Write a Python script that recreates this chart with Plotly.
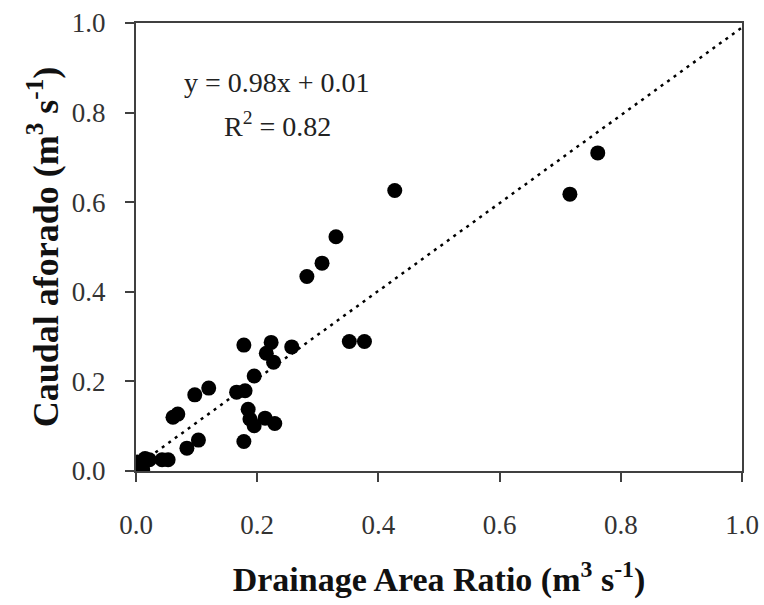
import plotly.graph_objects as go

# Observed data (Drainage Area Ratio vs Caudal aforado)
dar_x = [0.762, 0.716, 0.427, 0.330, 0.307, 0.282, 0.352, 0.377, 0.257, 0.223,
         0.178, 0.215, 0.227, 0.195, 0.120, 0.097, 0.180, 0.166, 0.185, 0.188,
         0.195, 0.213, 0.229, 0.069, 0.061, 0.103, 0.178, 0.084, 0.043, 0.053,
         0.015, 0.007, 0.011, 0.002, 0.022]
caudal_y = [0.710, 0.618, 0.626, 0.523, 0.464, 0.434, 0.289, 0.289, 0.277, 0.287,
            0.281, 0.263, 0.243, 0.212, 0.185, 0.170, 0.179, 0.176, 0.138, 0.116,
            0.101, 0.118, 0.106, 0.127, 0.120, 0.069, 0.066, 0.051, 0.025, 0.025,
            0.028, 0.013, 0.003, 0.020, 0.025]

# Regression line
slope = 0.98
intercept = 0.01
fit_x = [0.0, 1.0]
fit_y = [slope * v + intercept for v in fit_x]

tick_vals = [0.0, 0.2, 0.4, 0.6, 0.8, 1.0]
tick_text = ["0.0", "0.2", "0.4", "0.6", "0.8", "1.0"]

FONT = "Liberation Serif"
axis_color = "#404040"

fig = go.Figure()
fig.add_trace(go.Scatter(
    x=fit_x, y=fit_y, mode="lines",
    line=dict(color="black", width=2.5, dash="3px,5px"),
    showlegend=False, hoverinfo="skip"))
fig.add_trace(go.Scatter(
    x=dar_x, y=caudal_y, mode="markers",
    marker=dict(color="black", size=15, line=dict(width=0)),
    showlegend=False))

fig.add_annotation(x=0.233, y=0.868, xref="x", yref="y", showarrow=False,
                   text="y = 0.98x + 0.01",
                   font=dict(family=FONT, size=28, color="#222"))
fig.add_annotation(x=0.233, y=0.773, xref="x", yref="y", showarrow=False,
                   text="R<sup>2</sup> = 0.82",
                   font=dict(family=FONT, size=28, color="#222"))

fig.update_layout(
    width=764, height=605,
    margin=dict(l=136, r=22, t=23, b=134),
    paper_bgcolor="white", plot_bgcolor="white",
    font=dict(family=FONT, size=20, color="#333"),
    xaxis=dict(
        range=[0, 1], tickvals=tick_vals, ticktext=tick_text,
        automargin=False,
        showgrid=False, zeroline=False,
        showline=True, linecolor=axis_color, linewidth=2, mirror=True,
        ticks="outside", ticklen=9, tickwidth=2, tickcolor=axis_color,
        ticklabelstandoff=20,
        tickfont=dict(family=FONT, size=27, color="#333"),
        title=dict(text="<b>Drainage Area Ratio (m<sup>3</sup> s<sup>-1</sup>)</b>",
                   font=dict(family=FONT, size=34, color="#111"), standoff=28),
    ),
    yaxis=dict(
        range=[0, 1], tickvals=tick_vals, ticktext=tick_text,
        automargin=False,
        showgrid=False, zeroline=False,
        showline=True, linecolor=axis_color, linewidth=2, mirror=True,
        ticks="outside", ticklen=9, tickwidth=2, tickcolor=axis_color,
        ticklabelstandoff=14,
        tickfont=dict(family=FONT, size=27, color="#333"),
        title=dict(text="<b>Caudal aforado (m<sup>3</sup> s<sup>-1</sup>)</b>",
                   font=dict(family=FONT, size=36, color="#111"), standoff=2),
    ),
)

fig.write_html(
    "out.html",
    config={"displayModeBar": False},
    post_script="document.body.style.margin='0';document.body.style.overflow='hidden';",
)
